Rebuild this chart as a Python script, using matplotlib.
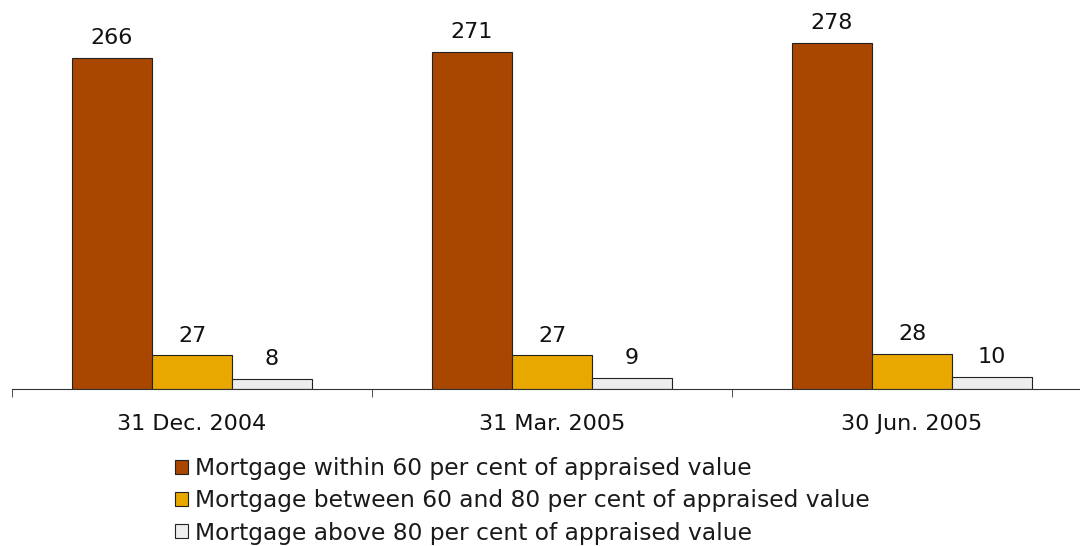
import matplotlib.pyplot as plt
import numpy as np

# data
categories = ["31 Dec. 2004", "31 Mar. 2005", "30 Jun. 2005"]
series_names = ["Mortgage within 60 per cent of appraised value",
                "Mortgage between 60 and 80 per cent of appraised value",
                "Mortgage above 80 per cent of appraised value"]
within_60 = [266, 271, 278]
between_60_80 = [27, 27, 28]
above_80 = [8, 9, 10]
colors = ["#A94700", "#E8A800", "#EDEDED"]

plt.rcParams['font.family'] = ['DejaVu Sans']

fig = plt.figure(figsize=(10.8, 5.46), dpi=100)
ax = fig.add_axes([12/1080, 157/546, 1.0, 389/546])

x = np.arange(len(categories))
w = 80/360
all_series = [within_60, between_60_80, above_80]
for i, (vals, c, name) in enumerate(zip(all_series, colors, series_names)):
    pos = x + (i - 1) * w
    ax.bar(pos, vals, width=w, color=c, edgecolor="#222222",
           linewidth=0.8, label=name, zorder=2)
    for xp, v in zip(pos, vals):
        ax.annotate(str(v), (xp, v), xytext=(0, 7), textcoords="offset points",
                    ha="center", va="bottom", fontsize=16, color="#111111")

ax.set_xlim(-0.5, 2.5)
ax.set_ylim(0, 389/1.244)
for s in ["top", "right", "left"]:
    ax.spines[s].set_visible(False)
ax.spines["bottom"].set_color("#333333")
ax.set_yticks([])
ax.set_xticks(x)
ax.set_xticklabels(categories, fontsize=16, color="#111111")
ax.tick_params(axis="x", which="major", length=0, pad=18)
ax.set_xticks([-0.5, 0.5, 1.5, 2.5], minor=True)
ax.tick_params(axis="x", which="minor", length=6, color="#333333", direction="out")

fig.legend(loc="upper left", bbox_to_anchor=(175/1080, 1 - 457/546),
           frameon=False, fontsize=16.8, handlelength=0.55, handleheight=0.55,
           handletextpad=0.3, labelspacing=0.4, borderpad=0, borderaxespad=0,
           labelcolor="#1a1a1a")

fig.savefig("out.png", dpi=100)
